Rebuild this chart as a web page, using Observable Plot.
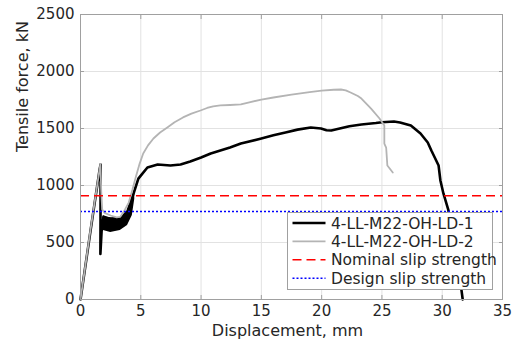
<!DOCTYPE html>
<html>
<head>
<meta charset="utf-8">
<script src="https://cdn.jsdelivr.net/npm/d3@7"></script>
<script src="https://cdn.jsdelivr.net/npm/@observablehq/plot@0.6"></script>
<style>
  html, body { margin: 0; padding: 0; background: white; }
</style>
</head>
<body>
<div id="chart"></div>
<script>
// ---- data ----
const xTicks = [0, 5, 10, 15, 20, 25, 30, 35];
const yTicks = [0, 500, 1000, 1500, 2000, 2500];

const seriesNames = ["4-LL-M22-OH-LD-1", "4-LL-M22-OH-LD-2", "Nominal slip strength", "Design slip strength"];

// 4-LL-M22-OH-LD-1 (black)
const ld1X = [0, 0.8, 1.6, 1.67, 1.66, 1.65, 1.75, 1.9, 2.5, 3.3, 3.9, 4.4, 4.8, 5.0, 5.55, 6.4, 7.46, 8.3, 9.1, 10, 10.8, 12.4, 13.3, 15, 16, 17, 18, 19.1, 19.95, 20.4, 20.8, 21.5, 22.3, 23.3, 24.5, 25, 26, 26.5, 27.4, 28.2, 28.8, 29.1, 29.3, 29.7, 29.85, 30.1, 30.5, 31.0, 31.4, 31.6, 31.7];
const ld1Y = [0, 580, 1150, 1185, 700, 400, 600, 720, 710, 710, 775, 930, 1060, 1087, 1158, 1184, 1175, 1184, 1210, 1245, 1281, 1333, 1368, 1412, 1440, 1465, 1490, 1509, 1500, 1485, 1482, 1500, 1520, 1535, 1548, 1555, 1561, 1553, 1526, 1456, 1377, 1307, 1263, 1175, 1044, 930, 789, 500, 250, 80, 0];

// noisy band of LD-1 between 2 and 4.5 mm (lower / upper envelope)
const bandX  = [1.85, 1.9, 2.5, 3.3, 3.9, 4.3, 4.5];
const bandLo = [640, 605, 588, 605, 649, 737, 880];
const bandHi = [725, 737, 712, 712, 775, 900, 960];

// 4-LL-M22-OH-LD-2 (grey)
const ld2X = [0, 0.8, 1.65, 1.72, 1.8, 2.0, 2.5, 3.0, 3.3, 3.7, 4.0, 4.3, 4.6, 4.9, 5.2, 5.6, 6.05, 6.6, 7.2, 7.8, 8.5, 9.2, 9.95, 10.5, 11.0, 11.6, 12.4, 13.3, 14, 15, 16, 17.5, 19, 20, 21, 21.6, 22, 22.4, 23, 23.3, 24.1, 24.8, 25.2, 25.2, 25.35, 25.45, 25.9];
const ld2Y = [0, 590, 1190, 950, 790, 760, 737, 720, 725, 790, 850, 960, 1080, 1190, 1281, 1352, 1412, 1465, 1509, 1555, 1597, 1630, 1658, 1680, 1694, 1702, 1706, 1712, 1730, 1754, 1772, 1798, 1820, 1833, 1840, 1842, 1835, 1816, 1785, 1763, 1675, 1588, 1526, 1368, 1333, 1175, 1114];

const nominalSlip = 910;
const designSlip = 772;

// ---- build tables ----
const ld1 = ld1X.map((x, i) => ({x, y: ld1Y[i]}));
const ld2 = ld2X.map((x, i) => ({x, y: ld2Y[i]}));
const band = bandX.map((x, i) => ({x, lo: bandLo[i], hi: bandHi[i]}));

const colors = {ld1: "#000000", ld2: "#b4b4b4", nominal: "#ff0000", design: "#0000ff"};
const FONT = "DejaVu Sans";
const fmt = d => String(d);

const chart = Plot.plot({
  width: 521,
  height: 354,
  marginLeft: 80,
  marginRight: 19,
  marginTop: 14,
  marginBottom: 55,
  x: {domain: [0, 35]},
  y: {domain: [0, 2500]},
  style: {fontFamily: FONT, fontSize: "15px", color: "#262626", background: "white"},
  marks: [
    Plot.gridX(xTicks, {stroke: "#e2e2e2", strokeOpacity: 1}),
    Plot.gridY(yTicks, {stroke: "#e2e2e2", strokeOpacity: 1}),
    Plot.areaY(band, {x: "x", y1: "lo", y2: "hi", fill: colors.ld1}),
    Plot.line(ld1, {x: "x", y: "y", stroke: colors.ld1, strokeWidth: 2.6}),
    Plot.line(ld2, {x: "x", y: "y", stroke: colors.ld2, strokeWidth: 1.8}),
    Plot.ruleY([nominalSlip], {stroke: colors.nominal, strokeWidth: 1.5, strokeDasharray: "9,5"}),
    Plot.ruleY([designSlip], {stroke: colors.design, strokeWidth: 1.5, strokeDasharray: "2,2"}),
    Plot.frame({stroke: "#a0a0a0"}),
    Plot.axisX(xTicks, {anchor: "bottom", tickSize: -4, tickPadding: 10, tickFormat: fmt, stroke: "#a0a0a0", fill: "#262626", label: null}),
    Plot.axisX(xTicks, {anchor: "top", tickSize: -4, tickFormat: () => "", stroke: "#a0a0a0", label: null}),
    Plot.axisY(yTicks, {anchor: "left", tickSize: -4, tickPadding: 10, tickFormat: fmt, stroke: "#a0a0a0", fill: "#262626", label: null}),
    Plot.axisY(yTicks, {anchor: "right", tickSize: -4, tickFormat: () => "", stroke: "#a0a0a0", label: null}),
    Plot.text(["Displacement, mm"], {frameAnchor: "bottom", dy: 36, dx: -4, fontSize: 16, fill: "#262626"}),
    Plot.text(["Tensile force, kN"], {frameAnchor: "left", dx: -58, dy: -5, rotate: -90, fontSize: 16, fill: "#262626"})
  ]
});

document.getElementById("chart").appendChild(chart);

// ---- legend inside the plot (bottom right) ----
const svg = d3.select(chart);
const lg = svg.append("g").attr("transform", "translate(287.5,212.5)").attr("text-anchor", "start");
lg.append("rect").attr("width", 205).attr("height", 77)
  .attr("fill", "#ffffff").attr("stroke", "#a0a0a0").attr("stroke-width", 1);
const items = [
  {name: seriesNames[0], color: colors.ld1, width: 2.6, dash: null},
  {name: seriesNames[1], color: colors.ld2, width: 1.8, dash: null},
  {name: seriesNames[2], color: colors.nominal, width: 1.5, dash: "9,5"},
  {name: seriesNames[3], color: colors.design, width: 1.5, dash: "2,2"}
];
items.forEach((d, i) => {
  const y = 10.5 + i * 18.4;
  lg.append("line").attr("x1", 5).attr("x2", 38).attr("y1", y).attr("y2", y)
    .attr("stroke", d.color).attr("stroke-width", d.width)
    .attr("stroke-dasharray", d.dash);
  lg.append("text").attr("x", 43.5).attr("y", y).attr("dy", "0.36em")
    .attr("text-anchor", "start")
    .attr("font-family", FONT).attr("font-size", "15.5px").attr("fill", "#262626")
    .text(d.name);
});
</script>
</body>
</html>
